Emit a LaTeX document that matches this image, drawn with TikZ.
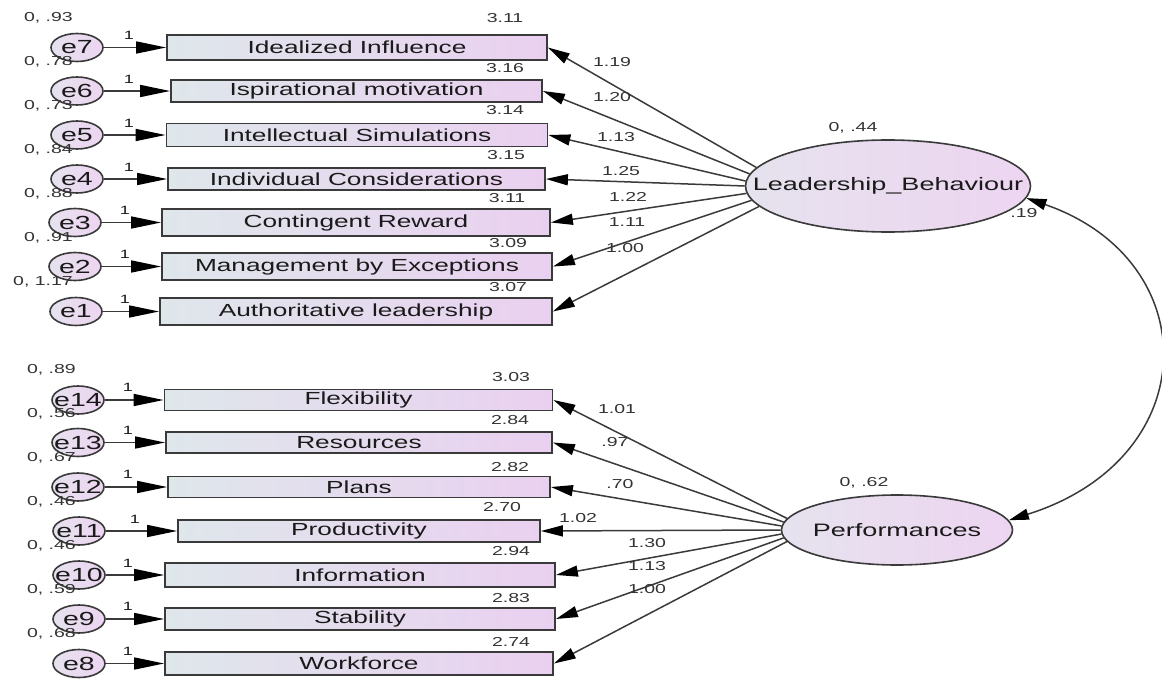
\documentclass[tikz,border=0pt]{standalone}
\usepackage{fontspec}
\setmainfont{Liberation Sans}[FakeStretch=1.5]
\usetikzlibrary{arrows.meta,shapes.geometric}
\definecolor{bl}{HTML}{DFE7EB}
\definecolor{pk}{HTML}{EAD0F0}
\definecolor{ebl}{HTML}{E6E2EE}
\definecolor{epk}{HTML}{EDD5F1}
\definecolor{ln}{HTML}{3A3A3A}
\definecolor{tx}{HTML}{1A1A1A}
\definecolor{nm}{HTML}{333333}
\begin{document}
\begin{tikzpicture}[x=1pt,y=-1pt,
  obs/.style={draw=ln, line width=1.8pt, left color=bl, right color=pk, inner sep=0pt,
    text=tx, font=\fontsize{17.5}{19}\selectfont},
  err/.style={ellipse, draw=ln, line width=1.6pt, left color=ebl, right color=epk,
    minimum width=52pt, minimum height=28pt, inner sep=0pt, text=tx,
    font=\fontsize{19}{20}\selectfont},
  lat/.style={ellipse, draw=ln, line width=1.6pt, left color=ebl, right color=epk,
    inner sep=0pt, text=tx, font=\fontsize{18}{20}\selectfont},
  num/.style={font=\fontsize{13}{14}\selectfont, text=nm, inner sep=0pt},
  one/.style={font=\fontsize{12}{13}\selectfont, text=tx, inner sep=0pt},
  errarrow/.style={draw=ln, line width=1.6pt, -{Triangle[length=30pt,width=12pt,color=black]}},
  loadarrow/.style={draw=ln, line width=1.5pt, -{Triangle[length=22pt,width=11pt,color=black]}},
  covarrow/.style={draw=ln, line width=1.5pt,
    {Triangle[length=20pt,width=11pt,color=black]}-{Triangle[length=20pt,width=11pt,color=black]}},
]
\useasboundingbox (0,0) rectangle (1162,679);

% ---------- latent variables ----------
\node[lat, minimum width=285pt, minimum height=92pt] (LB) at (888,186) {\makebox[0pt]{Leadership\_Behaviour}};
\node[lat, minimum width=231pt, minimum height=70pt] (PF) at (897,530) {\makebox[0pt]{Performances}};
\node[num] (vLB) at (853,128) {0, .44};
\node[num] (vPF) at (864,483) {0, .62};
\node[num] (cov) at (1024,213) {.19};

% ---------- top indicators ----------
\node[obs, minimum width=380pt, minimum height=25pt] (b7) at (357,47.5) {Idealized Influence};
\node[obs, minimum width=371pt, minimum height=22pt] (b6) at (356.5,91) {Ispirational motivation};
\node[obs, minimum width=381pt, minimum height=23pt] (b5) at (357,135) {Intellectual Simulations};
\node[obs, minimum width=377pt, minimum height=22pt] (b4) at (356.5,179) {Individual Considerations};
\node[obs, minimum width=388pt, minimum height=27pt] (b3) at (356,222.5) {Contingent Reward};
\node[obs, minimum width=390pt, minimum height=27pt] (b2) at (357,266.5) {Management by Exceptions};
\node[obs, minimum width=392pt, minimum height=27pt] (b1) at (356,311.5) {Authoritative leadership};

\node[err] (e7) at (77,47.5) {\makebox[0pt]{e7}};
\node[err] (e6) at (77,91) {\makebox[0pt]{e6}};
\node[err] (e5) at (77,135) {\makebox[0pt]{e5}};
\node[err] (e4) at (77,179) {\makebox[0pt]{e4}};
\node[err] (e3) at (75,222.5) {\makebox[0pt]{e3}};
\node[err] (e2) at (75,266.5) {\makebox[0pt]{e2}};
\node[err] (e1) at (76,311.5) {\makebox[0pt]{e1}};

% variances of errors (top)
\node[num, anchor=east] (v7) at (73,18) {0, .93};
\node[num, anchor=east] (v6) at (73,62) {0, .78};
\node[num, anchor=east] (v5) at (73,106) {0, .73};
\node[num, anchor=east] (v4) at (73,150) {0, .84};
\node[num, anchor=east] (v3) at (73,194) {0, .88};
\node[num, anchor=east] (v2) at (73,238) {0, .91};
\node[num, anchor=east] (v1) at (73,282) {0, 1.17};

% intercepts (top)
\node[num] (i7) at (505,18) {3.11};
\node[num] (i6) at (505,68) {3.16};
\node[num] (i5) at (505,110) {3.14};
\node[num] (i4) at (506,155) {3.15};
\node[num] (i3) at (507,198) {3.11};
\node[num] (i2) at (508,243) {3.09};
\node[num] (i1) at (508,287) {3.07};

% error paths (top)
\foreach \k in {7,6,5,4,3,2,1} { \draw[errarrow] (e\k) -- (b\k); }
\node[one] (o7) at (129,35) {1};
\node[one] (o6) at (129,79) {1};
\node[one] (o5) at (129,123) {1};
\node[one] (o4) at (129,167) {1};
\node[one] (o3) at (125,210) {1};
\node[one] (o2) at (125,254) {1};
\node[one] (o1) at (125,299) {1};

% loadings (top)
\draw[loadarrow] (LB.172) -- (b7.east);
\draw[loadarrow] (LB.175) -- (b6.east);
\draw[loadarrow] (LB.178) -- (b5.east);
\draw[loadarrow] (LB.180) -- (b4.east);
\draw[loadarrow] (LB.183) -- (b3.east);
\draw[loadarrow] (LB.186) -- (b2.east);
\draw[loadarrow] (LB.189) -- (b1.east);
\node[num] (l7) at (612,62) {1.19};
\node[num] (l6) at (612,97) {1.20};
\node[num] (l5) at (616,137) {1.13};
\node[num] (l4) at (621,171) {1.25};
\node[num] (l3) at (628,197) {1.22};
\node[num] (l2) at (627,222) {1.11};
\node[num] (l1) at (625,248) {1.00};

% ---------- bottom indicators ----------
\node[obs, minimum width=388pt, minimum height=21pt] (p14) at (358.5,400) {Flexibility};
\node[obs, minimum width=386pt, minimum height=21pt] (p13) at (359,442.5) {Resources};
\node[obs, minimum width=382pt, minimum height=21pt] (p12) at (359,487) {Plans};
\node[obs, minimum width=362pt, minimum height=22pt] (p11) at (359,531) {Productivity};
\node[obs, minimum width=390pt, minimum height=24pt] (p10) at (360,575) {Information};
\node[obs, minimum width=390pt, minimum height=22pt] (p9) at (360,619) {Stability};
\node[obs, minimum width=388pt, minimum height=23pt] (p8) at (359,663.5) {Workforce};

\node[err] (e14) at (78,400) {\makebox[0pt]{e14}};
\node[err] (e13) at (78,442.5) {\makebox[0pt]{e13}};
\node[err] (e12) at (78,487) {\makebox[0pt]{e12}};
\node[err] (e11) at (79,531) {\makebox[0pt]{e11}};
\node[err] (e10) at (79,575) {\makebox[0pt]{e10}};
\node[err] (e9) at (79,619) {\makebox[0pt]{e9}};
\node[err] (e8) at (79,663.5) {\makebox[0pt]{e8}};

% variances of errors (bottom)
\node[num, anchor=east] (v14) at (76,370) {0, .89};
\node[num, anchor=east] (v13) at (76,414) {0, .56};
\node[num, anchor=east] (v12) at (76,458) {0, .67};
\node[num, anchor=east] (v11) at (76,502) {0, .46};
\node[num, anchor=east] (v10) at (76,546) {0, .46};
\node[num, anchor=east] (v9) at (76,590) {0, .59};
\node[num, anchor=east] (v8) at (76,634) {0, .68};

% intercepts (bottom)
\node[num] (j14) at (511,377) {3.03};
\node[num] (j13) at (510,420) {2.84};
\node[num] (j12) at (510,467) {2.82};
\node[num] (j11) at (502,507) {2.70};
\node[num] (j10) at (511,551) {2.94};
\node[num] (j9) at (511,598) {2.83};
\node[num] (j8) at (511,642) {2.74};

% error paths (bottom)
\foreach \k in {14,13,12,11,10,9,8} { \draw[errarrow] (e\k) -- (p\k); }
\node[one] (o14) at (128,387) {1};
\node[one] (o13) at (128,430) {1};
\node[one] (o12) at (128,474) {1};
\node[one] (o11) at (135,519) {1};
\node[one] (o10) at (128,563) {1};
\node[one] (o9) at (128,606) {1};
\node[one] (o8) at (128,651) {1};

% loadings (bottom)
\draw[loadarrow] (PF.174) -- (p14.east);
\draw[loadarrow] (PF.176) -- (p13.east);
\draw[loadarrow] (PF.178) -- (p12.east);
\draw[loadarrow] (PF.180) -- (p11.east);
\draw[loadarrow] (PF.182) -- (p10.east);
\draw[loadarrow] (PF.184) -- (p9.east);
\draw[loadarrow] (PF.186) -- (p8.east);
\node[num] (m14) at (617,409) {1.01};
\node[num] (m13) at (615,442) {.97};
\node[num] (m12) at (620,484) {.70};
\node[num] (m11) at (578,518) {1.02};
\node[num] (m10) at (647,543) {1.30};
\node[num] (m9) at (647,566) {1.13};
\node[num] (m8) at (647,589) {1.00};

% covariance
\draw[covarrow] (LB.-5) .. controls (1206,260) and (1206,458) .. (PF.5);
\end{tikzpicture}
\end{document}
